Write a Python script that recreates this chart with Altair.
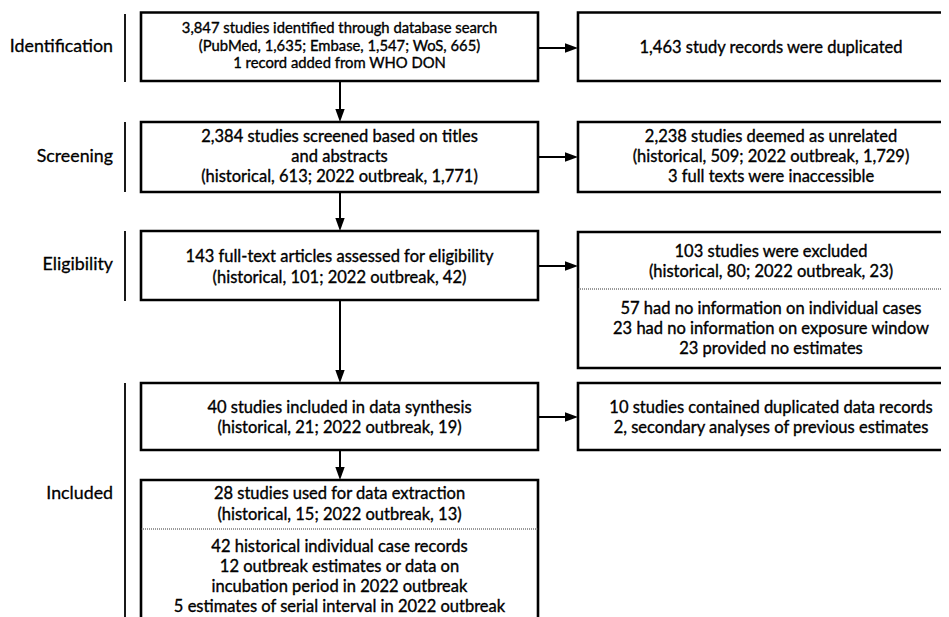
import altair as alt
import pandas as pd

# ---------------- content ----------------
stage_labels = ["Identification", "Screening", "Eligibility", "Included"]

block_lines = [
    ["3,847 studies identified through database search",
     "(PubMed, 1,635; Embase, 1,547; WoS, 665)",
     "1 record added from WHO DON"],
    ["1,463 study records were duplicated"],
    ["2,384 studies screened based on titles",
     "and abstracts",
     "(historical, 613; 2022 outbreak, 1,771)"],
    ["2,238 studies deemed as unrelated",
     "(historical, 509; 2022 outbreak, 1,729)",
     "3 full texts were inaccessible"],
    ["143 full-text articles assessed for eligibility",
     "(historical, 101; 2022 outbreak, 42)"],
    ["103 studies were excluded",
     "(historical, 80; 2022 outbreak, 23)"],
    ["57 had no information on individual cases",
     "23 had no information on exposure window",
     "23 provided no estimates"],
    ["40 studies included in data synthesis",
     "(historical, 21; 2022 outbreak, 19)"],
    ["10 studies contained duplicated data records",
     "2, secondary analyses of previous estimates"],
    ["28 studies used for data extraction",
     "(historical, 15; 2022 outbreak, 13)"],
    ["42 historical individual case records",
     "12 outbreak estimates or data on",
     "incubation period in 2022 outbreak",
     "5 estimates of serial interval in 2022 outbreak"],
]

# ---------------- layout (pixel frame of the page) ----------------
X0, X1 = 8, 941
Y0, Y1 = 8, 617
LCX, RCX = 339.5, 771
LX1, LX2 = 141, 538
RX1, RX2 = 578, 1000

block_cx = [LCX, RCX, LCX, RCX, LCX, RCX, RCX, LCX, RCX, LCX, LCX]
block_cy = [46.5, 47.5, 156.5, 156.5, 267.5, 262, 328.5, 418, 418, 504.5, 577]
block_lh = [17.8, 20, 20, 20, 21, 20, 20, 20, 20, 21, 20]
block_fs = [14.8, 16.5, 16.5, 16.5, 16.5, 16.5, 16.5, 16.5, 16.5, 16.5, 16.5]

box_x1 = [LX1, LX1, LX1, LX1, LX1, RX1, RX1, RX1, RX1]
box_x2 = [LX2, LX2, LX2, LX2, LX2, RX2, RX2, RX2, RX2]
box_y1 = [12.5, 122, 231, 383, 480, 12.5, 122, 232, 383]
box_y2 = [81, 192, 300, 450, 700, 81, 192, 368, 450]

sep_x1 = [RX1, LX1]
sep_x2 = [RX2, LX2]
sep_y = [289, 529]

v_arrow_x = [340, 340, 340, 340]
v_arrow_y1 = [81, 192, 300, 450]
v_arrow_y2 = [122, 231, 383, 480]
h_arrow_y = [48, 157, 266, 417]

bar_x = 125
bar_y1 = [14, 122, 231, 383]
bar_y2 = [82, 192, 301, 700]
label_x = 113
label_y = [47, 157, 265, 494]

FONT = "Lato"
LABEL_FS = 17.8
HEAD = 8  # arrow head length offset for shaft

# ---------------- tables ----------------
text_rows = []
for lines, cx, cy, lh, fs in zip(block_lines, block_cx, block_cy, block_lh, block_fs):
    n = len(lines)
    for i, t in enumerate(lines):
        text_rows.append({"x": cx, "y": cy + (i - (n - 1) / 2) * lh, "text": t, "fs": fs})
text_df = pd.DataFrame(text_rows)

box_df = pd.DataFrame({"x": box_x1, "x2": box_x2, "y": box_y1, "y2": box_y2})
sep_df = pd.DataFrame({"x": sep_x1, "x2": sep_x2, "y": sep_y})
vshaft = pd.DataFrame({"x": v_arrow_x, "y": v_arrow_y1, "y2": [v - HEAD for v in v_arrow_y2]})
vhead = pd.DataFrame({"x": v_arrow_x, "y": v_arrow_y2})
hshaft = pd.DataFrame({"x": [LX2] * 4, "x2": [RX1 - HEAD] * 4, "y": h_arrow_y})
hhead = pd.DataFrame({"x": [RX1] * 4, "y": h_arrow_y})
bar_df = pd.DataFrame({"x": [bar_x] * 4, "y": bar_y1, "y2": bar_y2})
lab_df = pd.DataFrame({"x": [label_x] * 4, "y": label_y, "text": stage_labels})

xs = alt.Scale(domain=[X0, X1], nice=False, zero=False)
ys = alt.Scale(domain=[Y0, Y1], nice=False, zero=False, reverse=True)
X = lambda f: alt.X(f, scale=xs, axis=None)
Y = lambda f: alt.Y(f, scale=ys, axis=None)

boxes = alt.Chart(box_df).mark_rect(
    fill="white", stroke="black", strokeWidth=2.6, clip=True
).encode(x=X("x:Q"), x2="x2:Q", y=Y("y:Q"), y2="y2:Q")

seps = alt.Chart(sep_df).mark_rule(
    stroke="#333333", strokeWidth=1, strokeDash=[1, 1], clip=True
).encode(x=X("x:Q"), x2="x2:Q", y=Y("y:Q"))

bars = alt.Chart(bar_df).mark_rule(stroke="black", strokeWidth=1.8, clip=True).encode(
    x=X("x:Q"), y=Y("y:Q"), y2="y2:Q")

vs = alt.Chart(vshaft).mark_rule(stroke="black", strokeWidth=2).encode(
    x=X("x:Q"), y=Y("y:Q"), y2="y2:Q")
hs = alt.Chart(hshaft).mark_rule(stroke="black", strokeWidth=2).encode(
    x=X("x:Q"), x2="x2:Q", y=Y("y:Q"))

vh = alt.Chart(vhead).mark_point(
    shape="M0,0L-0.36,-1L0.36,-1Z", filled=True, fill="black", opacity=1,
    size=676, strokeWidth=0
).encode(x=X("x:Q"), y=Y("y:Q"))
hh = alt.Chart(hhead).mark_point(
    shape="M0,0L-1,-0.36L-1,0.36Z", filled=True, fill="black", opacity=1,
    size=676, strokeWidth=0
).encode(x=X("x:Q"), y=Y("y:Q"))

texts = alt.Chart(text_df).mark_text(
    font=FONT, align="center", baseline="middle", color="black",
    stroke="black", strokeWidth=0.35
).encode(x=X("x:Q"), y=Y("y:Q"), text="text:N",
         size=alt.Size("fs:Q", scale=None, legend=None))

labels = alt.Chart(lab_df).mark_text(
    font=FONT, fontSize=LABEL_FS, align="right", baseline="middle", color="black",
    stroke="black", strokeWidth=0.3
).encode(x=X("x:Q"), y=Y("y:Q"), text="text:N")

chart = alt.layer(boxes, seps, bars, vs, hs, vh, hh, texts, labels).properties(
    width=X1 - X0, height=Y1 - Y0, padding=0, background="white"
).configure_view(strokeWidth=0)

chart.save("out.html", embed_options={"renderer": "svg", "actions": False})
